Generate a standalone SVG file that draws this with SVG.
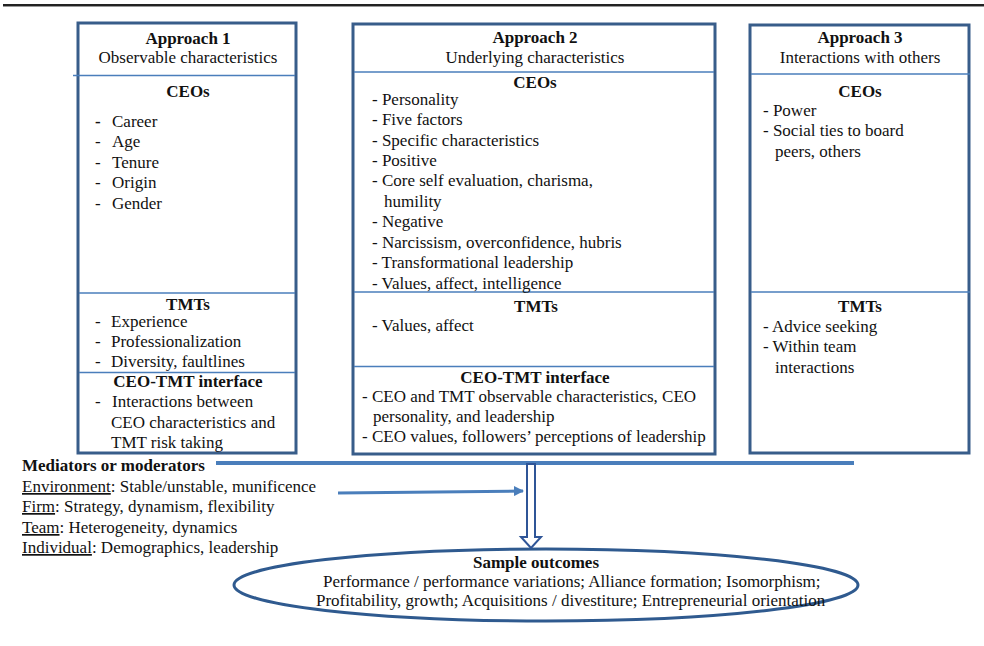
<svg xmlns="http://www.w3.org/2000/svg" width="984" height="646" viewBox="0 0 984 646">
<style>
text{font-family:"Liberation Serif","Times New Roman",serif;font-size:17px;fill:#111}
.b{font-weight:bold}
.c{text-anchor:middle}
.box{fill:#fff;stroke:#385d8a;stroke-width:3}
.div{stroke:#4a7ebb;stroke-width:1.6}
.u{text-decoration:underline}
</style>
<defs>
<marker id="ah" markerWidth="10" markerHeight="10" refX="9" refY="5" orient="auto" markerUnits="userSpaceOnUse" viewBox="0 0 10 10">
<path d="M0,0 L10,5 L0,10 Z" fill="#4a7ebb"/>
</marker>
</defs>
<rect width="984" height="646" fill="#fff"/>
<line x1="3" y1="5" x2="984" y2="5" stroke="#222" stroke-width="2"/>
<line x1="3" y1="6.5" x2="984" y2="6.5" stroke="#999" stroke-width="1"/>

<g id="approach1">
<rect class="box" x="78" y="23" width="218" height="430"/>
<line class="div" x1="73" y1="75.5" x2="295" y2="75.5"/>
<line class="div" x1="79" y1="293" x2="295" y2="293"/>
<line class="div" x1="79" y1="372.5" x2="295" y2="372.5"/>
<text class="b c" x="188" y="44">Approach 1</text>
<text class="c" x="188" y="63">Observable characteristics</text>
<text class="b c" x="188" y="97">CEOs</text>
<text class="b" x="95" y="127">-</text><text x="112" y="127">Career</text>
<text x="95" y="147">-</text><text x="112" y="147">Age</text>
<text x="95" y="168">-</text><text x="112" y="168">Tenure</text>
<text x="95" y="188">-</text><text x="112" y="188">Origin</text>
<text x="95" y="209">-</text><text x="112" y="209">Gender</text>
<text class="b c" x="188" y="310">TMTs</text>
<text x="95" y="327">-</text><text x="111" y="327">Experience</text>
<text x="95" y="347">-</text><text x="111" y="347">Professionalization</text>
<text x="95" y="367">-</text><text x="111" y="367">Diversity, faultlines</text>
<text class="b c" x="188" y="387">CEO-TMT interface</text>
<text x="95" y="407">-</text><text x="112" y="407">Interactions between</text>
<text x="111" y="428">CEO characteristics and</text>
<text x="111" y="448">TMT risk taking</text>
</g>

<g id="approach2">
<rect class="box" x="353" y="24" width="362" height="430"/>
<line class="div" x1="354" y1="72" x2="714" y2="72"/>
<line class="div" x1="354" y1="292" x2="714" y2="292"/>
<line class="div" x1="354" y1="366.5" x2="714" y2="366.5"/>
<text class="b c" x="535" y="43">Approach 2</text>
<text class="c" x="535" y="63">Underlying characteristics</text>
<text class="b c" x="535" y="88">CEOs</text>
<text x="372" y="105">- Personality</text>
<text x="372" y="125">- Five factors</text>
<text x="372" y="146">- Specific characteristics</text>
<text x="372" y="166">- Positive</text>
<text x="372" y="186">- Core self evaluation, charisma,</text>
<text x="384" y="207">humility</text>
<text x="372" y="227">- Negative</text>
<text x="372" y="248">- Narcissism, overconfidence, hubris</text>
<text x="372" y="268">- Transformational leadership</text>
<text x="372" y="289">- Values, affect, intelligence</text>
<text class="b c" x="536" y="312">TMTs</text>
<text x="372" y="331">- Values, affect</text>
<text class="b c" x="535" y="383">CEO-TMT interface</text>
<text x="362" y="402">- CEO and TMT observable characteristics, CEO</text>
<text x="373" y="422">personality, and leadership</text>
<text x="362" y="442">- CEO values, followers’ perceptions of leadership</text>
</g>

<g id="approach3">
<rect class="box" x="750" y="25" width="219" height="428"/>
<line class="div" x1="751" y1="74" x2="970" y2="74"/>
<line class="div" x1="751" y1="292" x2="970" y2="292"/>
<text class="b c" x="860" y="43">Approach 3</text>
<text class="c" x="860" y="63">Interactions with others</text>
<text class="b c" x="860" y="97">CEOs</text>
<text x="763" y="116">- Power</text>
<text x="763" y="136">- Social ties to board</text>
<text x="775" y="157">peers, others</text>
<text class="b c" x="860" y="312">TMTs</text>
<text x="763" y="332">- Advice seeking</text>
<text x="763" y="352">- Within team</text>
<text x="775" y="373">interactions</text>
</g>

<g id="mediators">
<text class="b" x="22" y="471">Mediators or moderators</text>
<text x="22" y="492"><tspan class="u">Environment</tspan>: Stable/unstable, munificence</text>
<text x="22" y="512"><tspan class="u">Firm</tspan>: Strategy, dynamism, flexibility</text>
<text x="22" y="533"><tspan class="u">Team</tspan>: Heterogeneity, dynamics</text>
<text x="22" y="553"><tspan class="u">Individual</tspan>: Demographics, leadership</text>
</g>

<g id="outcomes">
<ellipse cx="546" cy="585" rx="312" ry="36" fill="none" stroke="#2f5a8f" stroke-width="3"/>
<text class="b c" x="536" y="568">Sample outcomes</text>
<text x="323" y="587">Performance / performance variations; Alliance formation; Isomorphism;</text>
<text x="316" y="606">Profitability, growth; Acquisitions / divestiture; Entrepreneurial orientation</text>
</g>

<g id="connectors">
<line x1="216" y1="463" x2="854" y2="463" stroke="#4a7ebb" stroke-width="4"/>
<line x1="338" y1="493" x2="523" y2="491" stroke="#4a7ebb" stroke-width="3" marker-end="url(#ah)"/>
<path d="M527,464 L535,464 L535,537 L541,537 L531,548 L521,537 L527,537 Z" fill="#fff" stroke="#2f5597" stroke-width="2" stroke-linejoin="miter"/>
</g>
</svg>
